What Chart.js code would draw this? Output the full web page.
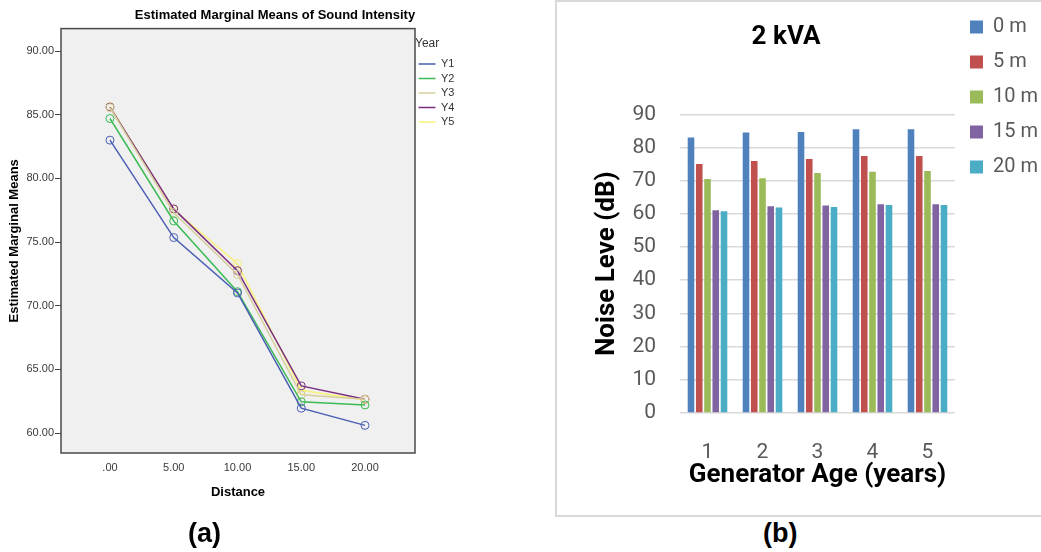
<!DOCTYPE html>
<html>
<head>
<meta charset="utf-8">
<title>Sound intensity and noise level</title>
<script src="https://cdn.jsdelivr.net/npm/chart.js@4/dist/chart.umd.min.js"></script>
<style>
    body { margin: 0; background: #fff; width: 1041px; height: 552px; position: relative; overflow: hidden; }
    canvas { position: absolute; top: 0; }
    #meansChart { left: 0; }
    #noiseChart { left: 531px; }
    .frame { position: absolute; left: 555px; top: 0; width: 500px; height: 513px; border: 2px solid #d9d9d9; border-right: none; }
    .panel { position: absolute; top: 518px; font: bold 27px 'Liberation Sans', Arial, sans-serif; color: #000; }
</style>
</head>
<body>
<div class="frame"></div>
<canvas id="meansChart" width="550" height="552"></canvas>
<canvas id="noiseChart" width="510" height="515"></canvas>
<div class="panel" style="left: 188px;">(a)</div>
<div class="panel" style="left: 763px;">(b)</div>
<script>
// (a) estimated marginal means, one line per year
const distances = [0, 5, 10, 15, 20];
const yearLabels = ['Y1', 'Y2', 'Y3', 'Y4', 'Y5'];
const meansY1 = [83.0, 75.35, 71.0, 61.95, 60.6];
const meansY2 = [84.7, 76.65, 71.1, 62.45, 62.2];
const meansY3 = [85.55, 77.3, 72.45, 63.0, 62.65];
const meansY4 = [85.6, 77.6, 72.75, 63.7, 62.65];
const meansY5 = [85.65, 77.55, 73.3, 63.35, 62.6];
const meanTicks = [60, 65, 70, 75, 80, 85, 90];

// (b) 2 kVA generator, one bar per measuring distance
const ageLabels = ['1', '2', '3', '4', '5'];
const distanceLabels = ['0 m', '5 m', '10 m', '15 m', '20 m'];
const noise0m = [83.0, 84.5, 84.7, 85.5, 85.5];
const noise5m = [75.0, 75.9, 76.5, 77.4, 77.4];
const noise10m = [70.5, 70.7, 72.3, 72.7, 72.9];
const noise15m = [61.1, 62.3, 62.5, 62.9, 62.9];
const noise20m = [60.8, 61.9, 62.1, 62.7, 62.7];

const spssFont = "'Liberation Sans', Arial, sans-serif";
const officeFont = "Roboto, 'Liberation Sans', sans-serif";

// SPSS keeps the legend in a wide column right of the plot; let a legend ask for a fixed width
const LegendBox = Chart.Legend._element;
const fitLegend = LegendBox.prototype.fit;
LegendBox.prototype.fit = function () {
    fitLegend.call(this);
    if (this.options.columnWidth && !this.isHorizontal()) {
        this.width = this.options.columnWidth;
    }
};

// grey plot background with a dark frame round it
const plotFrame = {
    id: 'plotFrame',
    beforeDraw(chart, args, opts) {
        const {ctx, chartArea} = chart;
        ctx.save();
        ctx.fillStyle = opts.fill;
        ctx.fillRect(chartArea.left, chartArea.top, chartArea.width, chartArea.height);
        ctx.restore();
    },
    afterDraw(chart, args, opts) {
        const {ctx, chartArea} = chart;
        ctx.save();
        ctx.strokeStyle = opts.stroke;
        ctx.lineWidth = 1.5;
        ctx.strokeRect(chartArea.left, chartArea.top, chartArea.width, chartArea.height);
        ctx.restore();
    }
};

function yearSeries(label, values, color) {
    return {
        label: label,
        data: values.map((v, i) => ({x: distances[i], y: v})),
        borderColor: color,
        backgroundColor: color,
        borderWidth: 1.5,
        pointRadius: 4,
        pointBorderWidth: 1,
        pointBackgroundColor: 'rgba(0,0,0,0)',
        pointBorderColor: color,
        tension: 0
    };
}

// Sound intensity line chart
const meansCtx = document.getElementById('meansChart');
new Chart(meansCtx, {
    type: 'line',
    data: {
        datasets: [
            yearSeries(yearLabels[0], meansY1, '#4a5fb3'),
            yearSeries(yearLabels[1], meansY2, '#3dbb55'),
            yearSeries(yearLabels[2], meansY3, '#d6cf9c'),
            yearSeries(yearLabels[3], meansY4, '#7c2f80'),
            yearSeries(yearLabels[4], meansY5, '#f8f27a')
        ]
    },
    options: {
        responsive: false,
        animation: false,
        layout: { padding: 0 },
        scales: {
            x: {
                type: 'linear',
                min: -3.84,
                max: 23.92,
                afterBuildTicks: (scale) => { scale.ticks = distances.map(v => ({value: v})); },
                afterFit: (scale) => { scale.height = 99; },
                grid: { display: false, drawTicks: false },
                border: { display: false },
                ticks: {
                    padding: 8,
                    color: '#3a3a3a',
                    font: { family: spssFont, size: 11 },
                    callback: (v) => v === 0 ? '.00' : v.toFixed(2)
                },
                title: {
                    display: true,
                    text: 'Distance',
                    color: '#000',
                    font: { family: spssFont, size: 13, weight: 'bold' },
                    padding: { top: 0, bottom: 51.5 }
                }
            },
            y: {
                min: 58.43,
                max: 91.76,
                afterBuildTicks: (scale) => { scale.ticks = meanTicks.map(v => ({value: v})); },
                afterFit: (scale) => { scale.width = 61; },
                grid: {
                    drawOnChartArea: false,
                    drawTicks: true,
                    tickLength: 6,
                    tickColor: '#444'
                },
                border: { display: false },
                ticks: {
                    padding: 1,
                    color: '#3a3a3a',
                    font: { family: spssFont, size: 11 },
                    callback: (v) => v.toFixed(2)
                },
                title: {
                    display: true,
                    text: 'Estimated Marginal Means',
                    color: '#000',
                    font: { family: spssFont, size: 13, weight: 'bold' },
                    padding: { top: 7, bottom: 0 }
                }
            }
        },
        plugins: {
            title: {
                display: true,
                text: 'Estimated Marginal Means of Sound Intensity',
                color: '#000',
                font: { family: spssFont, size: 13, weight: 'bold' },
                padding: { top: 8, bottom: 5 }
            },
            legend: {
                position: 'right',
                align: 'start',
                fullSize: false,
                columnWidth: 135,
                title: {
                    display: true,
                    text: 'Year',
                    position: 'start',
                    color: '#333',
                    font: { family: spssFont, size: 12 },
                    padding: { top: 9, bottom: 3 }
                },
                labels: {
                    boxWidth: 17,
                    boxHeight: 0,
                    padding: 3.5,
                    color: '#333',
                    font: { family: spssFont, size: 11 }
                }
            },
            tooltip: { enabled: false },
            plotFrame: { fill: '#f0f0f0', stroke: '#4a4a4a' }
        }
    },
    plugins: [plotFrame]
});

// Noise level bar chart
const noiseCtx = document.getElementById('noiseChart');
new Chart(noiseCtx, {
    type: 'bar',
    data: {
        labels: ageLabels,
        datasets: [
            { label: distanceLabels[0], data: noise0m, backgroundColor: '#4f81bd' },
            { label: distanceLabels[1], data: noise5m, backgroundColor: '#c0504d' },
            { label: distanceLabels[2], data: noise10m, backgroundColor: '#9bbb59' },
            { label: distanceLabels[3], data: noise15m, backgroundColor: '#8064a2' },
            { label: distanceLabels[4], data: noise20m, backgroundColor: '#4bacc6' }
        ]
    },
    options: {
        responsive: false,
        animation: false,
        categoryPercentage: 0.75,
        barPercentage: 0.8,
        layout: { padding: { top: 2, left: 0, right: 0, bottom: 0 } },
        scales: {
            x: {
                afterFit: (scale) => { scale.height = 102; },
                grid: { display: false, drawTicks: false },
                border: { display: false },
                ticks: {
                    padding: 27,
                    color: '#595959',
                    font: { family: officeFont, size: 21 }
                },
                title: {
                    display: true,
                    text: 'Generator Age (years)',
                    color: '#000',
                    font: { family: officeFont, size: 26, weight: 'bold' },
                    padding: { top: 0, bottom: 24.4 }
                }
            },
            y: {
                min: 0,
                max: 90,
                afterFit: (scale) => { scale.width = 149; },
                grid: { color: '#d9d9d9', lineWidth: 1.5, drawTicks: false },
                border: { display: false },
                ticks: {
                    stepSize: 10,
                    padding: 24,
                    color: '#595959',
                    font: { family: officeFont, size: 21 }
                },
                title: {
                    display: true,
                    text: 'Noise Leve (dB)',
                    color: '#000',
                    font: { family: officeFont, size: 26, weight: 'bold' },
                    padding: { top: 60.4, bottom: 0 }
                }
            }
        },
        plugins: {
            title: {
                display: true,
                text: '2 kVA',
                color: '#000',
                font: { family: officeFont, size: 26, weight: 'bold' },
                padding: { top: 20, bottom: 61.1 }
            },
            legend: {
                position: 'right',
                align: 'start',
                maxWidth: 86,
                columnWidth: 86,
                labels: {
                    boxWidth: 13,
                    boxHeight: 13,
                    padding: 15,
                    color: '#595959',
                    font: { family: officeFont, size: 20 }
                }
            },
            tooltip: { enabled: false }
        }
    }
});
</script>
</body>
</html>
